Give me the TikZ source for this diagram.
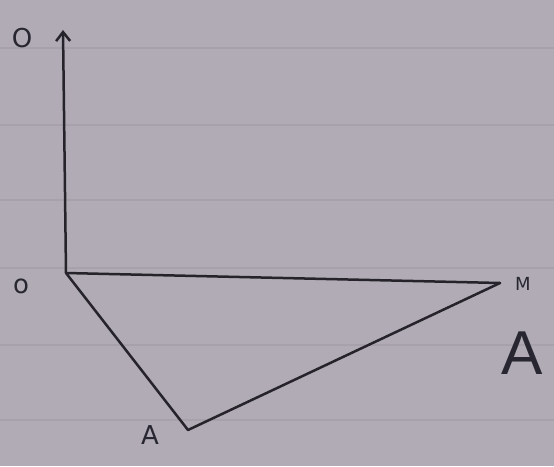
\documentclass[tikz,border=0pt]{standalone}
\usepackage{fontspec}
\setmainfont{DejaVu Sans}
\newfontfamily\thinfont{Liberation Sans}
\usetikzlibrary{arrows.meta}
\definecolor{paper}{RGB}{176,171,181}
\definecolor{inkc}{RGB}{38,36,42}
\definecolor{rulec}{RGB}{166,161,171}
\definecolor{lblc}{RGB}{40,38,48}
\begin{document}
\begin{tikzpicture}[x=1pt,y=-1pt,
  ink/.style={draw=inkc, line width=2.5pt, line cap=round, line join=round},
  rule/.style={draw=rulec, line width=1.2pt},
  lbl/.style={text=lblc, inner sep=0pt, font=\fontsize{26}{26}\selectfont}]
\fill[paper] (0,0) rectangle (554,466);
\useasboundingbox (0,0) rectangle (554,466);
\foreach \yy in {48,125,200,268,345,420} \draw[rule] (0,\yy) -- (554,\yy);
\coordinate (o) at (66,273);
\coordinate (top) at (63,30);
\coordinate (m) at (500,283);
\coordinate (a) at (188,430);
\draw[ink,-{Straight Barb[length=9pt,width=14pt]}] (o) -- (top);
\draw[ink] (o) -- (m);
\draw[ink] (o) -- (a) -- (m);
\node[lbl] (lo1) at (22,38) {O};
\node[lbl] (lo2) at (21,286) {o};
\node[lbl, font=\fontsize{18}{18}\selectfont] (lm) at (523,284) {M};
\node[lbl] (la) at (150,435) {A};
\node[lbl, font=\fontsize{62}{62}\thinfont] (lbig) at (522,353) {A};
\end{tikzpicture}
\end{document}
